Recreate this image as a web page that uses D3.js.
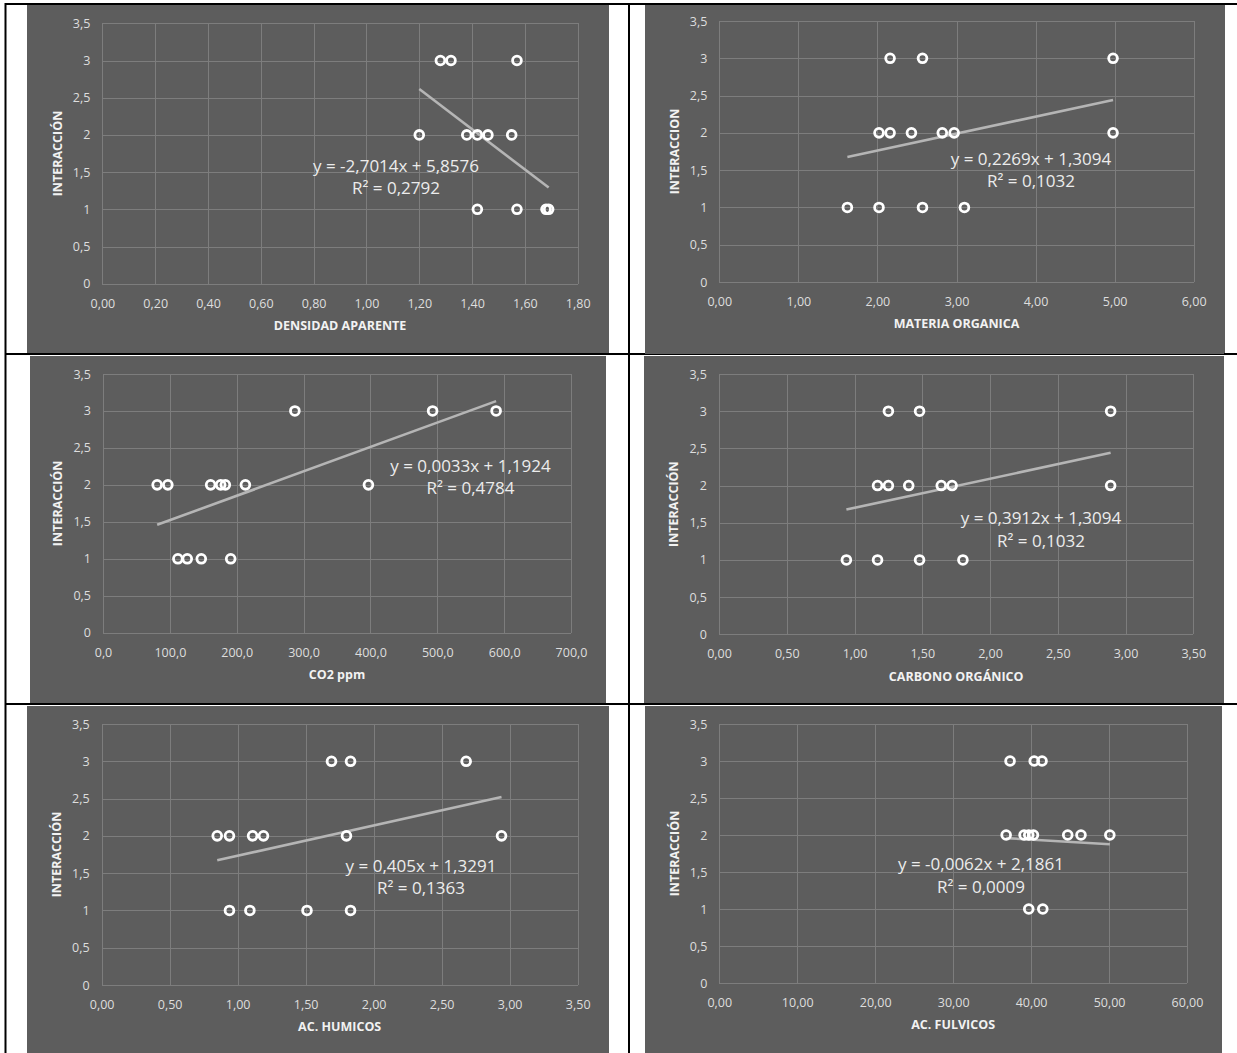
<!DOCTYPE html>
<html>
<head>
<meta charset="utf-8">
<script src="https://cdn.jsdelivr.net/npm/d3@7/dist/d3.min.js"></script>
<style>
  html, body { margin: 0; padding: 0; background: #ffffff; }
  svg { display: block; }
  .tick text { font-family: "Open Sans", sans-serif; font-size: 12.5px; fill: #dedede; }
  .tick line { stroke: #7d7d7d; stroke-width: 1; shape-rendering: crispEdges; }
  .axis-title { font-family: "Open Sans", sans-serif; font-weight: 700; font-size: 12.5px; fill: #f2f2f2; }
  .eq { font-family: "Open Sans", sans-serif; font-size: 17px; fill: #ececec; }
</style>
</head>
<body>
<svg id="chart" width="1237" height="1053"></svg>
<script>
// ---- Data: soil properties vs. interaction level ----
const yTicks = [0, 0.5, 1, 1.5, 2, 2.5, 3, 3.5];

const densidadX = [1.28, 1.32, 1.57, 1.20, 1.38, 1.42, 1.46, 1.55, 1.42, 1.57, 1.68, 1.69];
const densidadY = [3, 3, 3, 2, 2, 2, 2, 2, 1, 1, 1, 1];
const densidadTicks = [0, 0.2, 0.4, 0.6, 0.8, 1.0, 1.2, 1.4, 1.6, 1.8];
const densidadTrend = [-2.7014, 5.8576, 0.2792];

const materiaX = [2.16, 2.57, 4.98, 2.02, 2.16, 2.43, 2.82, 2.97, 4.98, 1.62, 2.02, 2.57, 3.10];
const materiaY = [3, 3, 3, 2, 2, 2, 2, 2, 2, 1, 1, 1, 1];
const materiaTicks = [0, 1, 2, 3, 4, 5, 6];
const materiaTrend = [0.2269, 1.3094, 0.1032];

const co2X = [287, 493, 588, 81, 97, 161, 176, 183, 213, 397, 112, 126, 147, 191];
const co2Y = [3, 3, 3, 2, 2, 2, 2, 2, 2, 2, 1, 1, 1, 1];
const co2Ticks = [0, 100, 200, 300, 400, 500, 600, 700];
const co2Trend = [0.0033, 1.1924, 0.4784];

const carbonoX = [1.25, 1.48, 2.89, 1.17, 1.25, 1.40, 1.64, 1.72, 2.89, 0.94, 1.17, 1.48, 1.80];
const carbonoY = [3, 3, 3, 2, 2, 2, 2, 2, 2, 1, 1, 1, 1];
const carbonoTicks = [0, 0.5, 1, 1.5, 2, 2.5, 3, 3.5];
const carbonoTrend = [0.3912, 1.3094, 0.1032];

const humicosX = [1.69, 1.83, 2.68, 0.85, 0.94, 1.11, 1.19, 1.80, 2.94, 0.94, 1.09, 1.51, 1.83];
const humicosY = [3, 3, 3, 2, 2, 2, 2, 2, 2, 1, 1, 1, 1];
const humicosTicks = [0, 0.5, 1, 1.5, 2, 2.5, 3, 3.5];
const humicosTrend = [0.405, 1.3291, 0.1363];

const fulvicosX = [37.3, 40.4, 41.4, 36.8, 39.1, 39.7, 40.3, 44.7, 46.4, 50.1, 39.7, 41.5];
const fulvicosY = [3, 3, 3, 2, 2, 2, 2, 2, 2, 2, 1, 1];
const fulvicosTicks = [0, 10, 20, 30, 40, 50, 60];
const fulvicosTrend = [-0.0062, 2.1861, 0.0009];

const xTitles = ["DENSIDAD APARENTE", "MATERIA ORGANICA", "CO2 ppm", "CARBONO ORGÁNICO", "AC. HUMICOS", "AC. FULVICOS"];
const yTitles = ["INTERACCIÓN", "INTERACCION", "INTERACCIÓN", "INTERACCIÓN", "INTERACCIÓN", "INTERACCIÓN"];

// ---- Panel geometry on the page (background box, plot box, equation anchor) ----
const layout = [
  { bg: [27, 5, 609, 354],     plot: [102.4, 23.3, 577.7, 283.7], eq: [396, 166],    dec: 2 },
  { bg: [645, 5, 1225, 354],   plot: [719.3, 21, 1193.7, 282],    eq: [1031, 159],   dec: 2 },
  { bg: [30, 356, 606, 703],   plot: [103, 374, 571, 632.7],      eq: [470.5, 466],  dec: 1 },
  { bg: [644, 356, 1224, 704], plot: [719, 374, 1193.3, 634.3],   eq: [1041, 518.3], dec: 2 },
  { bg: [27, 706, 609, 1053],  plot: [101.6, 724, 577.7, 985],    eq: [421, 865.7],  dec: 2 },
  { bg: [645, 706, 1222, 1053],plot: [719.3, 724, 1187, 983],     eq: [981, 864.3],  dec: 2 }
];

const series = [
  { x: densidadX, y: densidadY, ticks: densidadTicks, trend: densidadTrend },
  { x: materiaX,  y: materiaY,  ticks: materiaTicks,  trend: materiaTrend },
  { x: co2X,      y: co2Y,      ticks: co2Ticks,      trend: co2Trend },
  { x: carbonoX,  y: carbonoY,  ticks: carbonoTicks,  trend: carbonoTrend },
  { x: humicosX,  y: humicosY,  ticks: humicosTicks,  trend: humicosTrend },
  { x: fulvicosX, y: fulvicosY, ticks: fulvicosTicks, trend: fulvicosTrend }
];

const locale = d3.formatLocale({ decimal: ",", thousands: ".", grouping: [3], currency: ["", ""] });
const fmtCoef = v => String(v).replace(".", ",");

const svg = d3.select("#chart");

// Table rules behind the charts
const rulesBack = svg.append("g").attr("fill", "#000");
rulesBack.append("rect").attr("x", 5).attr("y", 3).attr("width", 1232).attr("height", 2);
rulesBack.append("rect").attr("x", 5).attr("y", 353).attr("width", 1232).attr("height", 2);

series.forEach((s, i) => {
  const L = layout[i];
  const [bx0, by0, bx1, by1] = L.bg;
  const [px0, py0, px1, py1] = L.plot;
  const g = svg.append("g");

  g.append("rect")
    .attr("x", bx0).attr("y", by0)
    .attr("width", bx1 - bx0).attr("height", by1 - by0)
    .attr("fill", "#5d5d5d");

  const xs = d3.scaleLinear().domain([s.ticks[0], s.ticks[s.ticks.length - 1]]).range([px0, px1]);
  const ys = d3.scaleLinear().domain([0, 3.5]).range([py1, py0]);

  const xAxis = d3.axisBottom(xs)
    .tickValues(s.ticks)
    .tickSizeInner(-(py1 - py0)).tickSizeOuter(0)
    .tickPadding(15)
    .tickFormat(locale.format("." + L.dec + "f"));
  g.append("g").attr("transform", `translate(0,${py1})`).call(xAxis)
    .call(a => a.select(".domain").remove());

  const yAxis = d3.axisLeft(ys)
    .tickValues(yTicks)
    .tickSizeInner(-(px1 - px0)).tickSizeOuter(0)
    .tickPadding(12)
    .tickFormat(v => String(v).replace(".", ","));
  g.append("g").attr("transform", `translate(${px0},0)`).call(yAxis)
    .call(a => a.select(".domain").remove());

  // Axis titles
  g.append("text").attr("class", "axis-title")
    .attr("x", (px0 + px1) / 2).attr("y", py1 + 42).attr("dy", "0.35em")
    .attr("text-anchor", "middle").text(xTitles[i]);
  g.append("text").attr("class", "axis-title")
    .attr("transform", `translate(${px0 - 45},${(py0 + py1) / 2}) rotate(-90)`)
    .attr("dy", "0.35em").attr("text-anchor", "middle").text(yTitles[i]);

  // Linear trend line over the data range
  const [m, b, r2] = s.trend;
  const ext = d3.extent(s.x);
  const line = d3.line().x(d => xs(d)).y(d => ys(m * d + b));
  g.append("path").datum(ext)
    .attr("d", line)
    .attr("fill", "none").attr("stroke", "#b5b5b5").attr("stroke-width", 2.6);

  // Markers
  g.append("g").selectAll("circle")
    .data(s.x.map((xv, k) => [xv, s.y[k]]))
    .join("circle")
    .attr("cx", d => xs(d[0])).attr("cy", d => ys(d[1]))
    .attr("r", 4.4)
    .attr("fill", "none").attr("stroke", "#ffffff").attr("stroke-width", 2.8);

  // Regression equation
  const sign = b < 0 ? "- " : "+ ";
  g.append("text").attr("class", "eq")
    .attr("x", L.eq[0]).attr("y", L.eq[1]).attr("dy", "0.35em")
    .attr("text-anchor", "middle")
    .text(`y = ${fmtCoef(m)}x ${sign}${fmtCoef(Math.abs(b))}`);
  g.append("text").attr("class", "eq")
    .attr("x", L.eq[0]).attr("y", L.eq[1] + 22.5).attr("dy", "0.35em")
    .attr("text-anchor", "middle")
    .text(`R² = ${fmtCoef(r2)}`);
});

// Rules drawn above the chart boxes
const rulesFront = svg.append("g").attr("fill", "#000");
rulesFront.append("rect").attr("x", 5).attr("y", 353).attr("width", 640).attr("height", 2);
rulesFront.append("rect").attr("x", 1224).attr("y", 353).attr("width", 13).attr("height", 2);
rulesFront.append("rect").attr("x", 5).attr("y", 703).attr("width", 1232).attr("height", 2);
rulesFront.append("rect").attr("x", 4.5).attr("y", 3).attr("width", 2).attr("height", 1050);
rulesFront.append("rect").attr("x", 628).attr("y", 3).attr("width", 2).attr("height", 1050);
</script>
</body>
</html>
